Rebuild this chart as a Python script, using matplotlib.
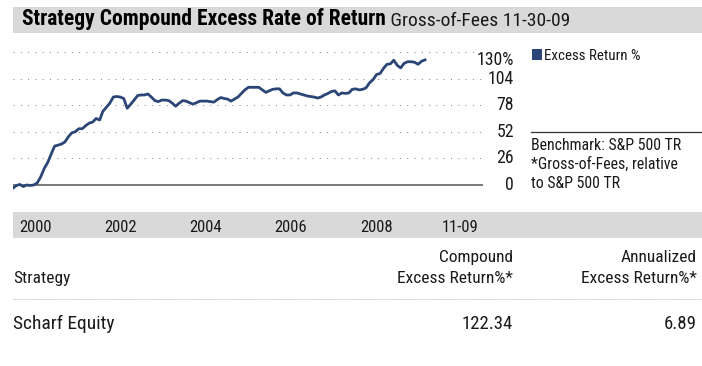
import pandas as pd
import matplotlib
matplotlib.use("Agg")
import matplotlib.pyplot as plt
import matplotlib.dates as mdates
import matplotlib.transforms as mtransforms
from matplotlib.patches import Rectangle

plt.rcParams['font.family'] = ['Liberation Sans Narrow', 'Roboto Condensed', 'DejaVu Sans']
plt.rcParams['font.stretch'] = 'condensed'

# compound excess return vs S&P 500 TR, month ends Dec-99 .. Nov-09
excess = [
    -3, -0.5, 0.5, -1.5, 0, -0.5, 0, 2, 8, 16, 22, 30,
    38, 39, 40, 42, 47, 51, 52, 55, 55, 58, 60.5, 61.5,
    65, 63.5, 72, 76, 80, 86, 86.5, 86, 84.5, 75, 79, 83,
    87.5, 88, 88, 89, 86, 82.5, 81.5, 83, 83, 82.5, 80, 77,
    80, 82.5, 82, 80.5, 79, 80.5, 82, 82, 82, 81.5, 81, 83.5,
    85.5, 84.5, 84, 82, 84, 86, 89.5, 93, 95.5, 95.5, 95.5, 95.5,
    93, 90.5, 92, 93.5, 94, 94, 90, 88, 88, 90, 90, 89,
    88, 87, 86.5, 86, 85, 86, 88, 89.5, 91.5, 92, 88, 90,
    89.5, 90, 93.5, 94, 93, 93.5, 95, 100, 103, 108, 109, 114,
    118, 118.5, 122, 117, 114.5, 119, 120.5, 120.5, 120, 118, 121, 122.34,
]
dates = pd.date_range("1999-12-31", periods=len(excess), freq="ME")

y_ticks = [0, 26, 52, 78, 104, 130]
y_labels = ["0", "26", "52", "78", "104", "130%"]
year_ticks = [2000, 2002, 2004, 2006, 2008, 2009.92]
year_labels = ["2000", "2002", "2004", "2006", "2008", "11-09"]

strategy = "Scharf Equity"
compound = 122.34
annualized = 6.89

NAVY = "#2b4676"
BAND = "#d9d9d9"
INK = "#1a1a1a"

W, H = 702, 366
fig = plt.figure(figsize=(W / 100, H / 100), dpi=100)


def box(x0, y0, x1, y1):
    # pixel box measured from the top-left -> figure fraction rect
    return [x0 / W, 1 - y1 / H, (x1 - x0) / W, (y1 - y0) / H]


# page layer for bands, headings and the table
lay = fig.add_axes([0, 0, 1, 1])
lay.set_xlim(0, W)
lay.set_ylim(H, 0)
lay.axis("off")

lay.add_patch(Rectangle((13, 6.5), W - 13, 26.5, color=BAND, lw=0))
t1 = lay.text(22, 25.5, "Strategy Compound Excess Rate of Return", fontsize=15.5,
              fontweight="bold", color="black", va="baseline")
fig.canvas.draw()
bb = t1.get_window_extent().transformed(lay.transData.inverted())
lay.text(bb.x1, 25.5, " Gross-of-Fees 11-30-09", fontsize=14, color=INK,
         va="baseline")

# legend and benchmark notes
lay.add_patch(Rectangle((531.5, 49), 10.5, 10.5, color=NAVY, lw=0))
lay.text(544, 55.5, "Excess Return %", fontsize=10.8, color=INK, va="center")
lay.plot([531, W], [131.5, 131.5], color="#333333", lw=0.9)
for yy, s in zip([146, 164.5, 183],
                 ["Benchmark: S&P 500 TR", "*Gross-of-Fees, relative", "to S&P 500 TR"]):
    lay.text(531, yy, s, fontsize=11.4, color=INK, va="center")

# table under the chart
lay.text(13, 278.5, "Strategy", fontsize=12.5, color=INK, va="center")
lay.text(513, 257.5, "Compound", fontsize=12.5, color=INK, va="center", ha="right")
lay.text(513, 278.5, "Excess Return%*", fontsize=12.5, color=INK, va="center", ha="right")
lay.text(697, 257.5, "Annualized", fontsize=12.5, color=INK, va="center", ha="right")
lay.text(697, 278.5, "Excess Return%*", fontsize=12.5, color=INK, va="center", ha="right")
lay.plot([13, W], [299.3, 299.3], color="#aaaaaa", lw=0.6, ls=(0, (1, 1)))
lay.text(13, 324, strategy, fontsize=14, color=INK, va="center")
lay.text(513, 324, f"{compound:.2f}", fontsize=13.5, color=INK, va="center", ha="right")
lay.text(697, 324, f"{annualized:.2f}", fontsize=13.5, color=INK, va="center", ha="right")

# line chart
ax = fig.add_axes(box(13, 41.8, 483, 195.2))
ax.set_facecolor("none")
ax.set_ylim(-10, 140)
x0 = mdates.date2num(dates[0])
x1 = mdates.date2num(dates[-1])
ax.set_xlim(x0, x0 + (x1 - x0) * 470 / 412)
for v in y_ticks[1:]:
    ax.axhline(v, color="#8c8c8c", lw=0.75, ls=(0, (1, 6)), zorder=1)
ax.axhline(0, color="#555555", lw=1.1, zorder=1)
ax.plot(dates, excess, color=NAVY, lw=2.0, solid_joinstyle="round", zorder=3)
ax.set_xticks([])
ax.set_yticks([])
for s in ax.spines.values():
    s.set_visible(False)

lab_tf = mtransforms.blended_transform_factory(ax.transAxes, ax.transData)
for v, s in zip(y_ticks, y_labels):
    tf = lab_tf
    if v == y_ticks[-1]:
        tf = lab_tf + mtransforms.ScaledTranslation(0, -8 / 100, fig.dpi_scale_trans)
    ax.text(1 + 31 / 470, v, s, transform=tf, fontsize=12.8, color=INK,
            ha="right", va="center")

# year band
bax = fig.add_axes(box(13, 212, W, 238))
bax.set_facecolor(BAND)
bax.set_xlim(2000 - 6 / 42.6, 2000 + 683 / 42.6)
bax.set_ylim(0, 1)
for yr, s in zip(year_ticks, year_labels):
    bax.text(yr, 0.4, s, fontsize=12, color=INK, ha="left", va="center")
bax.set_xticks([])
bax.set_yticks([])
for s in bax.spines.values():
    s.set_visible(False)

fig.savefig("out.png", dpi=100)
